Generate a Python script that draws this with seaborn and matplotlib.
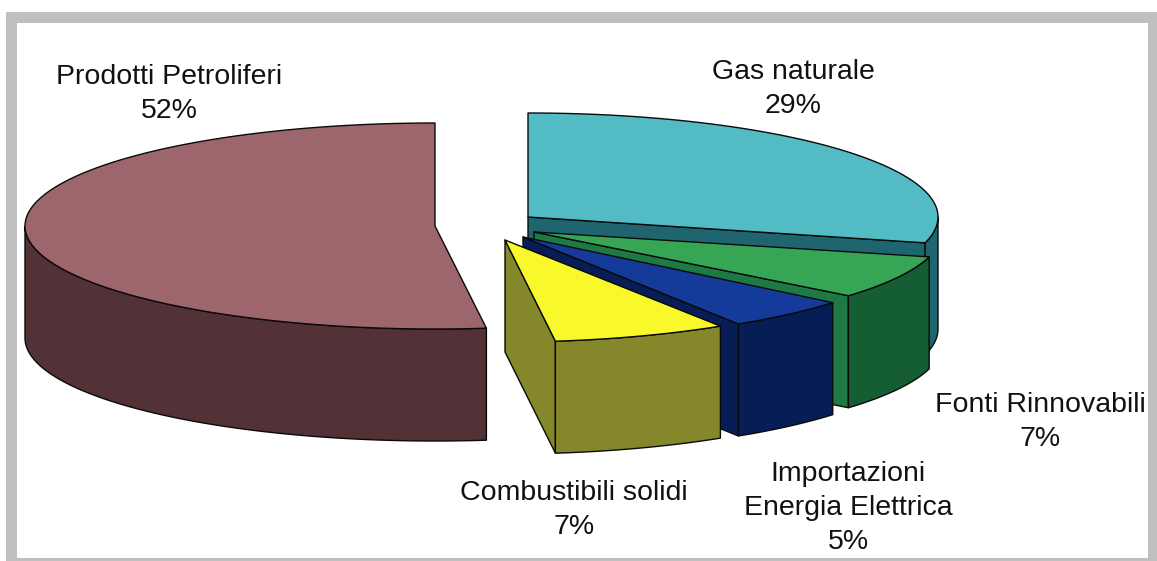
import numpy as np
import matplotlib
matplotlib.use("Agg")
import matplotlib.pyplot as plt
import seaborn as sns

# Energy mix shares, in percent, clockwise from twelve o'clock
sources = ["Gas naturale", "Fonti Rinnovabili", "Importazioni\nEnergia Elettrica",
           "Combustibili solidi", "Prodotti Petroliferi"]
shares = [29, 7, 5, 7, 52]

# Slice styling
top_colors = sns.color_palette(["#52BBC4", "#36A655", "#143B9A", "#F8F82A", "#9C666C"])
rim_colors = sns.color_palette(["#1F6570", "#155E33", "#061E55", "#85882A", "#523137"])
cut_colors = sns.color_palette(["#1F6570", "#1D7A45", "#061E55", "#85882A", "#523137"])

# Exploded layout: apex of each slice and its projected radii, in figure pixels
apex_x = [528, 534, 523, 505, 435]
apex_y = [217, 232, 237, 240, 226]
radius_x = [410, 408, 402, 402, 410]
radius_y = [104, 100, 103, 102, 103]
depth = 112

# Label anchors
label_x = [793, 1040, 848, 574, 169]
label_y = [89, 422, 508, 510, 94]

sns.set_theme(style="white")
plt.rcParams["font.family"] = ["Liberation Sans", "DejaVu Sans"]

fig = plt.figure(figsize=(11.57, 5.61), dpi=100, facecolor="white")
ax = fig.add_axes([0, 0, 1, 1])
ax.set_xlim(0, 1157)
ax.set_ylim(561, 0)
ax.axis("off")

# Grey frame around the chart
ax.fill([6, 1157, 1157, 6], [12, 12, 561, 561], color="#BFBFBF", lw=0, zorder=0)
ax.fill([17, 1148, 1148, 17], [23, 23, 558, 558], color="white", lw=0, zorder=0)

edge = dict(edgecolor="#0A0A0A", linewidth=1.0, joinstyle="round")


def rim_point(t, cx, cy, rx, ry):
    return cx + rx * np.sin(t), cy - ry * np.cos(t)


def draw_cut(t, cx, cy, rx, ry, color, z):
    x, y = rim_point(t, cx, cy, rx, ry)
    ax.fill([cx, x, x, cx], [cy, y, y + depth, cy + depth],
            facecolor=color, zorder=z, **edge)


edges = np.radians(np.concatenate([[0], np.cumsum(shares)]) * 3.6)
# Back slices first so that the nearer ones overlap them
order = [4, 0, 1, 2, 3]
for rank, i in enumerate(order):
    z = 2 + rank
    t1, t2 = edges[i], edges[i + 1]
    cx, cy, rx, ry = apex_x[i], apex_y[i], radius_x[i], radius_y[i]

    # Flat cut faces that turn towards the viewer
    if np.sin(t2) > 0:
        draw_cut(t2, cx, cy, rx, ry, cut_colors[i], z)
    if np.sin(t1) < 0:
        draw_cut(t1, cx, cy, rx, ry, cut_colors[i], z)

    # Curved outer wall over the front half of the ellipse
    lo, hi = max(t1, np.pi / 2), min(t2, 3 * np.pi / 2)
    if hi > lo:
        ts = np.linspace(lo, hi, 120)
        xs, ys = rim_point(ts, cx, cy, rx, ry)
        ax.fill(np.r_[xs, xs[::-1]], np.r_[ys, ys[::-1] + depth],
                facecolor=rim_colors[i], zorder=z, **edge)

    # Top surface
    ts = np.linspace(t1, t2, 200)
    xs, ys = rim_point(ts, cx, cy, rx, ry)
    ax.fill(np.r_[cx, xs], np.r_[cy, ys], facecolor=top_colors[i], zorder=z, **edge)

for name, share, x, y in zip(sources, shares, label_x, label_y):
    ax.text(x, y, f"{name}\n{share}%", ha="center", va="center",
            fontsize=20.5, color="#111111", linespacing=1.38, zorder=10)

fig.savefig("out.png", dpi=100)
